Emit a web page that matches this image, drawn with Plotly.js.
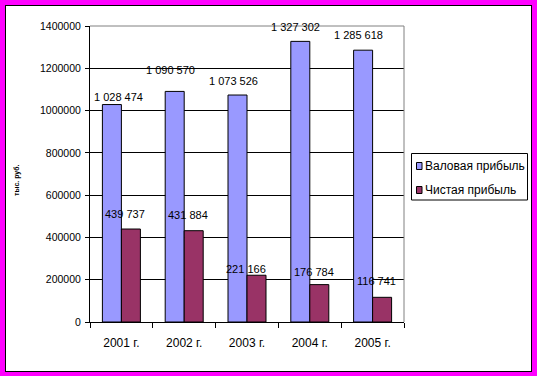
<!DOCTYPE html>
<html>
<head>
<meta charset="utf-8">
<script src="https://cdn.plot.ly/plotly-3.0.1.min.js"></script>
<style>
html,body{margin:0;padding:0;background:#ff00ff;width:537px;height:376px;overflow:hidden;}
#chart{position:absolute;left:5px;top:5px;width:525px;height:365px;border:1px solid #000;background:#fff;}
</style>
</head>
<body>
<div id="chart"></div>
<script>
// ---- data ----
const categories = ["2001 г.", "2002 г.", "2003 г.", "2004 г.", "2005 г."];
const grossProfit = [1028474, 1090570, 1073526, 1327302, 1285618];
const netProfit = [439737, 431884, 221166, 176784, 116741];
const seriesNames = ["Валовая прибыль", "Чистая прибыль"];
const yTickValues = [0, 200000, 400000, 600000, 800000, 1000000, 1200000, 1400000];
const yAxisTitle = "тыс. руб.";

// ---- styles / positions (not data) ----
const colors = ["#9999ff", "#993366"];
const grossLabelShift = [[-3, 8], [-14, 21], [-14, 14], [-14, 14], [-14, 15]];
const netLabelShift = [[4, 15], [4, 16], [-1, 6], [4, 13], [4, 16]];

const W = 525, H = 365;
const M = {l: 84, r: 127, t: 20, b: 49};
const PW = W - M.l - M.r, PH = H - M.t - M.b;
// page px -> paper coords (div starts at page 6,6)
const px = x => (x - 6 - M.l) / PW;
const py = y => (H - M.b - (y - 6)) / PH;

function fmt(v) {
  return String(v).replace(/\B(?=(\d{3})+(?!\d))/g, " ");
}

const traces = [grossProfit, netProfit].map((vals, i) => ({
  type: "bar",
  x: categories,
  y: vals,
  name: seriesNames[i],
  marker: {color: colors[i], line: {color: "#000", width: 1}},
  showlegend: false,
  hoverinfo: "x+y"
}));

const annotations = [];
[grossProfit, netProfit].forEach((vals, s) => {
  const shifts = s === 0 ? grossLabelShift : netLabelShift;
  vals.forEach((v, i) => {
    annotations.push({
      x: categories[i], y: v, xref: "x", yref: "y",
      text: fmt(v), showarrow: false,
      xanchor: "center", yanchor: "middle",
      xshift: shifts[i][0], yshift: shifts[i][1],
      font: {family: "Liberation Sans, Arial, sans-serif", size: 11, color: "#000"}
    });
  });
});

// y axis title (small rotated)
annotations.push({
  xref: "paper", yref: "paper", x: px(17), y: py(180),
  text: "<b>" + yAxisTitle + "</b>", textangle: -90, showarrow: false,
  xanchor: "center", yanchor: "middle",
  font: {family: "Liberation Sans, Arial, sans-serif", size: 7, color: "#000"}
});

// legend (built from series names/colors)
const legendRows = [166, 190];
seriesNames.forEach((name, i) => {
  annotations.push({
    xref: "paper", yref: "paper", x: px(422.5), y: py(legendRows[i]),
    text: name, showarrow: false, xanchor: "left", yanchor: "middle",
    font: {family: "Liberation Sans, Arial, sans-serif", size: 12, color: "#000"}
  });
});

const shapes = [
  // plot area top & right border (gray)
  {type: "line", xref: "paper", yref: "paper", x0: 0, x1: 1, y0: 1, y1: 1, line: {color: "#808080", width: 1}},
  {type: "line", xref: "paper", yref: "paper", x0: 1, x1: 1, y0: 0, y1: 1, line: {color: "#808080", width: 1}},
  // legend box
  {type: "rect", xref: "paper", yref: "paper", x0: px(411.5), x1: px(527.5), y0: py(200), y1: py(153.5),
   line: {color: "#000", width: 1}, fillcolor: "rgba(0,0,0,0)"}
];
seriesNames.forEach((name, i) => {
  shapes.push({type: "rect", xref: "paper", yref: "paper",
    x0: px(416.5), x1: px(422), y0: py(legendRows[i] + 3.5), y1: py(legendRows[i] - 3.5),
    line: {color: "#000", width: 1}, fillcolor: colors[i]});
});

const layout = {
  width: W, height: H,
  margin: M,
  paper_bgcolor: "#ffffff",
  plot_bgcolor: "#ffffff",
  barmode: "group",
  bargap: 0.395,
  bargroupgap: 0,
  showlegend: false,
  font: {family: "Liberation Sans, Arial, sans-serif", color: "#000"},
  xaxis: {
    type: "category",
    showline: true, linecolor: "#000", linewidth: 1,
    ticks: "outside", ticklen: 5, tickcolor: "#000", tickson: "boundaries",
    showgrid: false, zeroline: false,
    tickfont: {size: 12, family: "Liberation Sans, Arial, sans-serif"},
    ticklabelstandoff: 10
  },
  yaxis: {
    range: [0, 1400000],
    tickvals: yTickValues,
    ticktext: yTickValues.map(String),
    showline: true, linecolor: "#000", linewidth: 1,
    ticks: "outside", ticklen: 4, tickcolor: "#000",
    showgrid: true, gridcolor: "#000", gridwidth: 1,
    zeroline: false,
    tickfont: {size: 10.5, family: "Liberation Sans, Arial, sans-serif"},
    ticklabelstandoff: 2
  },
  annotations: annotations,
  shapes: shapes
};

Plotly.newPlot("chart", traces, layout, {staticPlot: true, displayModeBar: false});
</script>
</body>
</html>
